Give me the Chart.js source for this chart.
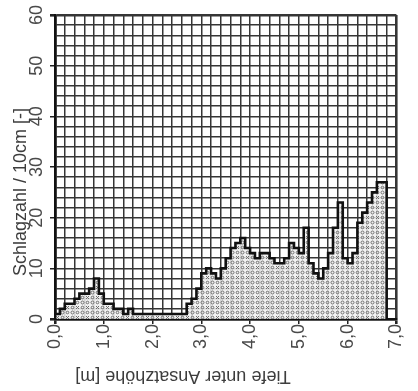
<!DOCTYPE html>
<html><head><meta charset="utf-8">
<script src="https://cdn.jsdelivr.net/npm/chart.js@4.4.0/dist/chart.umd.min.js"></script>
<style>html,body{margin:0;padding:0;background:#fff;} #wrap{width:418px;height:391px;position:relative}</style>
</head><body><div id="wrap"><canvas id="c" width="418" height="391"></canvas></div>
<script>
// Depth (start of each 10 cm interval) in m
const depths = [0.0,0.1,0.2,0.3,0.4,0.5,0.6,0.7,0.8,0.9,
  1.0,1.1,1.2,1.3,1.4,1.5,1.6,1.7,1.8,1.9,
  2.0,2.1,2.2,2.3,2.4,2.5,2.6,2.7,2.8,2.9,
  3.0,3.1,3.2,3.3,3.4,3.5,3.6,3.7,3.8,3.9,
  4.0,4.1,4.2,4.3,4.4,4.5,4.6,4.7,4.8,4.9,
  5.0,5.1,5.2,5.3,5.4,5.5,5.6,5.7,5.8,5.9,
  6.0,6.1,6.2,6.3,6.4,6.5,6.6,6.7];
// Blow count per 10 cm
const blows = [1,2,3,3,4,5,5,6,8,5,
  3,3,2,2,1,2,1,1,1,1,
  1,1,1,1,1,1,1,3,4,6,
  9,10,9,8,10,12,14,15,16,14,
  13,12,13,13,12,11,11,12,15,14,
  13,18,11,9,8,10,13,18,23,12,
  11,13,19,21,23,25,27,27];
const endDepth = 6.8;
const xTickLabels = ['0,0','1,0','2,0','3,0','4,0','5,0','6,0','7,0'];
const yTickLabels = ['0','10','20','30','40','50','60'];
const xTitle = 'Tiefe unter Ansatzhöhe [m]';
const yTitle = 'Schlagzahl / 10cm [-]';

// pattern for the filled area
const pc = document.createElement('canvas');
pc.width = 10; pc.height = 10;
const p = pc.getContext('2d');
p.fillStyle = 'rgba(238,238,238,0.85)';
p.fillRect(0,0,10,10);
p.strokeStyle = '#6e6e6e'; p.lineWidth = 1;
p.beginPath(); p.arc(2.5,2.5,1.5,0,Math.PI*2); p.stroke();
p.beginPath(); p.moveTo(6,6); p.lineTo(9,9); p.moveTo(9,6); p.lineTo(6,9); p.stroke();
p.beginPath(); p.arc(7.5,2.5,1.3,0,Math.PI*2); p.stroke();
p.beginPath(); p.arc(2.5,7.5,1.3,0,Math.PI*2); p.stroke();
const pattern = p.createPattern(pc,'repeat');

const pts = [{x:0,y:0}];
depths.forEach((d,i)=>pts.push({x:d,y:blows[i]}));
pts.push({x:endDepth,y:0});

const isInt = v => Math.abs(v - Math.round(v)) < 1e-6;
const FONT = 'Liberation Sans, Arial, sans-serif';

const titlePlugin = {
  id:'titles',
  afterDraw(chart){
    const ctx = chart.ctx;
    ctx.save();
    ctx.fillStyle = '#3d3d3d';
    ctx.font = '18px ' + FONT;
    ctx.textAlign = 'center'; ctx.textBaseline = 'middle';
    ctx.translate(21,192); ctx.rotate(-Math.PI/2);
    ctx.fillText(yTitle,0,0);
    ctx.restore();
    ctx.save();
    ctx.fillStyle = '#3d3d3d';
    ctx.font = '18px ' + FONT;
    ctx.textAlign = 'center'; ctx.textBaseline = 'middle';
    ctx.translate(183,376); ctx.rotate(Math.PI);
    ctx.fillText(xTitle,0,0);
    ctx.restore();
  }
};

new Chart(document.getElementById('c'), {
  type:'line',
  data:{datasets:[{
    data: pts,
    stepped: 'before',
    fill: 'origin',
    backgroundColor: pattern,
    borderColor: '#111',
    borderWidth: 2.6,
    pointRadius: 0,
    tension: 0
  }]},
  options:{
    responsive:false,
    animation:false,
    events:[],
    layout:{padding:{top:15,right:12,left:0,bottom:0}},
    plugins:{legend:{display:false},tooltip:{enabled:false}},
    scales:{
      x:{
        type:'linear', min:0, max:7,
        afterFit(s){ s.height = 72; },
        ticks:{stepSize:0.2, autoSkip:false, minRotation:90, maxRotation:90, padding:0,
          color:'#4a4a4a', font:{family:FONT, size:18},
          callback:(v)=> isInt(v) ? xTickLabels[Math.round(v)] : ''},
        grid:{color:'#363636',
          lineWidth:(c)=> (c.tick && (isInt(c.tick.value) && (Math.round(c.tick.value)===0||Math.round(c.tick.value)===7))) ? 2.6 : 1.5,
          tickLength:5,
          tickColor:(c)=> (c.tick && isInt(c.tick.value)) ? '#222' : 'rgba(0,0,0,0)'},
        border:{display:true,color:'#111',width:2.6}
      },
      y:{
        type:'linear', min:0, max:60,
        afterFit(s){ s.width = 55; },
        ticks:{stepSize:2, autoSkip:false, minRotation:90, maxRotation:90, padding:3, crossAlign:'center',
          color:'#4a4a4a', font:{family:FONT, size:18},
          callback:(v)=> (v % 10 === 0) ? yTickLabels[v/10] : ''},
        grid:{color:'#363636',
          lineWidth:(c)=> (c.tick && (c.tick.value===0||c.tick.value===60)) ? 2.6 : 1.5,
          tickLength:5,
          tickColor:(c)=> (c.tick && c.tick.value % 10 === 0) ? '#222' : 'rgba(0,0,0,0)'},
        border:{display:true,color:'#111',width:2.6}
      }
    }
  },
  plugins:[titlePlugin]
});
</script>
</body></html>
